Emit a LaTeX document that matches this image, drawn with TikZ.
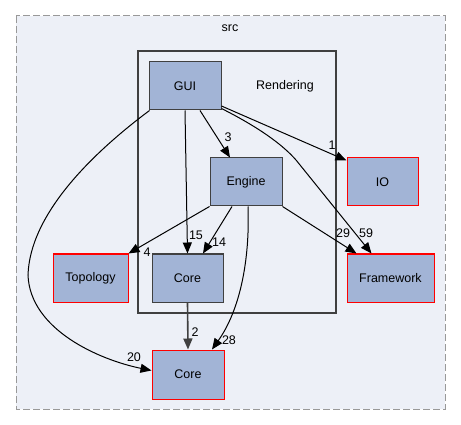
\documentclass[tikz,border=0pt]{standalone}
\usepackage{fontspec}
\setmainfont{Liberation Sans}
\usetikzlibrary{arrows.meta,calc}
\definecolor{nodefill}{HTML}{A2B4D6}
\definecolor{clusterfill}{HTML}{EDF0F7}
\definecolor{darkborder}{HTML}{404040}
\definecolor{dashgray}{HTML}{999999}
\tikzset{
  txt/.style={font=\fontsize{12.5}{14}\selectfont, inner sep=0pt},
  dirnode/.style={txt, draw=darkborder, fill=nodefill, line width=1pt, minimum height=48pt},
  extnode/.style={dirnode, draw=red},
  dep/.style={draw=black, line width=1pt, -{Triangle[length=11pt,width=9pt]}},
  lbl/.style={txt},
}
\begin{document}
\begin{tikzpicture}[x=1pt,y=-1pt]
\useasboundingbox (0,0) rectangle (461,425);
% clusters
\draw[dashgray, fill=clusterfill, line width=1pt, dash pattern=on 7pt off 3pt] (16,16) rectangle (445,409);
\node[txt] (srclbl) at (230,28) {src};
\draw[darkborder, fill=clusterfill, line width=2.5pt] (138,51) rectangle (336,313);
\node[txt] (rendlbl) at (285,86) {Rendering};
% nodes
\node[dirnode, minimum width=72pt] (GUI) at (185,86) {GUI};
\node[dirnode, minimum width=72pt] (Engine) at (246,182) {Engine};
\node[extnode, minimum width=71pt] (IO) at (382.5,182) {IO};
\node[extnode, minimum width=75pt] (Topology) at (90.5,278) {Topology};
\node[dirnode, minimum width=71pt] (CoreIn) at (187.5,278) {Core};
\node[extnode, minimum width=87pt] (Framework) at (390.5,278) {Framework};
\node[extnode, minimum width=72pt, minimum height=49pt] (CoreOut) at (188,374.5) {Core};
% edges
\draw[dep] ($(GUI.south)+(15,0)$) -- ($(Engine.north)+(-16,0)$)
  node[lbl, at={(228,137)}] {3};
\draw[dep] ($(GUI.east)+(0,20)$) -- ($(IO.north west)+(0,3)$)
  node[lbl, at={(332,145)}] {1};
\draw[dep] ($(GUI.south east)+(0,-2)$) .. controls (258,127) and (282,144) .. (296,160) -- ($(Framework.north)+(-19,0)$)
  node[lbl, at={(366,233)}] {59};
\draw[dep] (GUI.south) -- (CoreIn.north)
  node[lbl, at={(196,235)}] {15};
\draw[dep] ($(GUI.south west)+(1,0)$) .. controls (90,155) and (30,215) .. (28,275)
  .. controls (30,330) and (100,360) .. ($(CoreOut.west)+(0,-4)$)
  node[lbl, at={(134,357)}] {20};
\draw[dep] (Engine.south west) -- (Topology.north east)
  node[lbl, at={(147,252)}] {4};
\draw[dep] ($(Engine.south)+(-14,0)$) -- ($(CoreIn.north)+(15.5,0)$)
  node[lbl, at={(219,242)}] {14};
\draw[dep] (Engine.south east) -- ($(Framework.north west)+(10,0)$)
  node[lbl, at={(343,233)}] {29};
\draw[dep] ($(Engine.south)+(2,0)$) .. controls (250,260) and (240,310) .. ($(CoreOut.north)+(24,0)$)
  node[lbl, at={(229,340)}] {28};
\draw[dep, draw=darkborder, line width=1.6pt] (CoreIn.south) -- (CoreOut.north)
  node[lbl, at={(195,332)}] {2};
\end{tikzpicture}
\end{document}
